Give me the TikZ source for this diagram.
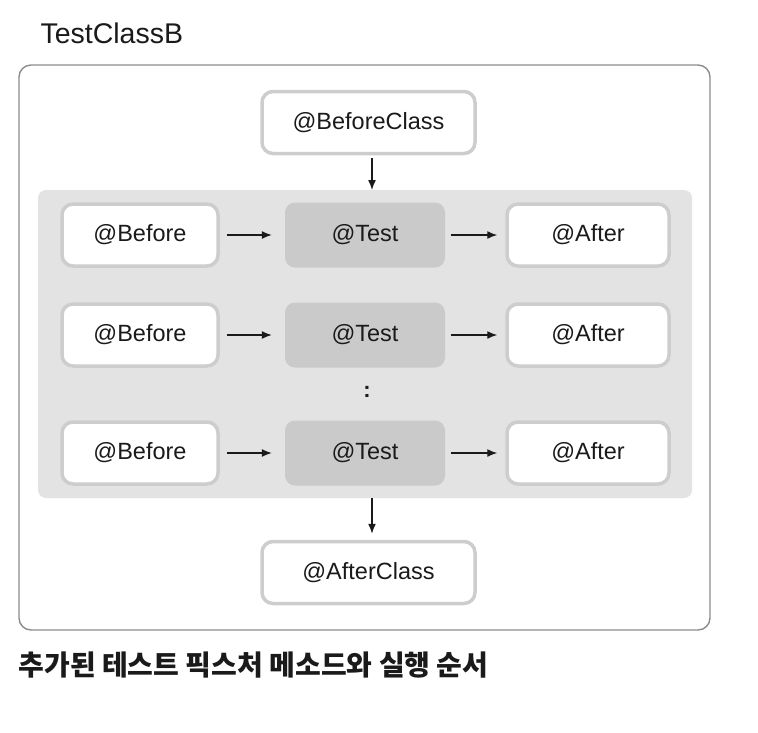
\documentclass[tikz,border=0pt]{standalone}
\usepackage{fontspec}
\setmainfont{Liberation Sans}
\newfontfamily\korfont{Noto Sans CJK KR}
\usetikzlibrary{arrows.meta, positioning}

\definecolor{frameGray}{HTML}{8C8C8C}
\definecolor{panelGray}{HTML}{E3E3E3}
\definecolor{testGray}{HTML}{CACACA}
\definecolor{edgeGray}{HTML}{CDCDCD}
\definecolor{inkGray}{HTML}{1A1A1A}

\tikzset{
  fixture/.style={draw=edgeGray, line width=3.5pt, fill=white, rounded corners=11pt,
    minimum width=156pt, minimum height=62pt, inner sep=0pt, text=inkGray,
    font=\fontsize{23.5}{27}\selectfont},
  testcase/.style={fill=testGray, rounded corners=10pt, minimum width=160pt,
    minimum height=65pt, inner sep=0pt, text=inkGray, font=\fontsize{23.5}{27}\selectfont},
  flow/.style={-{Latex[length=10pt,width=8pt]}, line width=1.4pt, inkGray}
}

\begin{document}
\begin{tikzpicture}[x=1pt, y=-1pt]
	\useasboundingbox (0,0) rectangle (758,732);

	\node[anchor=west, text=inkGray, font=\fontsize{28.5}{33}\selectfont] (title) at (37,33) {TestClassB};
	\draw[frameGray, line width=1.4pt, rounded corners=12pt] (19,65) rectangle (710,630);

	\node[fill=panelGray, rounded corners=8pt, minimum width=654pt, minimum height=308pt, inner sep=0pt] (panel) at (365,344) {};

	\node[fixture, minimum width=213pt] (bc) at (368.5,122.5) {@BeforeClass};
	\node[fixture, minimum width=213pt] (ac) at (368.5,572.5) {@AfterClass};

	% three rows of before -> test -> after
	\foreach \r/\y in {1/235, 2/335, 3/453} {
		\node[fixture] (b\r) at (140,\y) {@Before};
		\node[testcase] (t\r) at (365,\y) {@Test};
		\node[fixture, minimum width=162pt] (a\r) at (588,\y) {@After};
		\draw[flow, shorten <=7pt, shorten >=13pt] (b\r) -- (t\r);
		\draw[flow, shorten <=6pt, shorten >=8pt] (t\r) -- (a\r);
	}

	\node[text=inkGray, font=\fontsize{22}{26}\selectfont\bfseries] (dots) at (367,392) {:};

	\draw[flow, shorten <=3pt] (bc.south -| 372,0) -- (372,190);
	\draw[flow, shorten >=6pt] (372,498) -- (ac.north -| 372,0);

	\node[anchor=west, text=inkGray, font=\korfont\bfseries\fontsize{28}{32}\selectfont] (caption) at (15,665) {추가된 테스트 픽스처 메소드와 실행 순서};
\end{tikzpicture}
\end{document}
